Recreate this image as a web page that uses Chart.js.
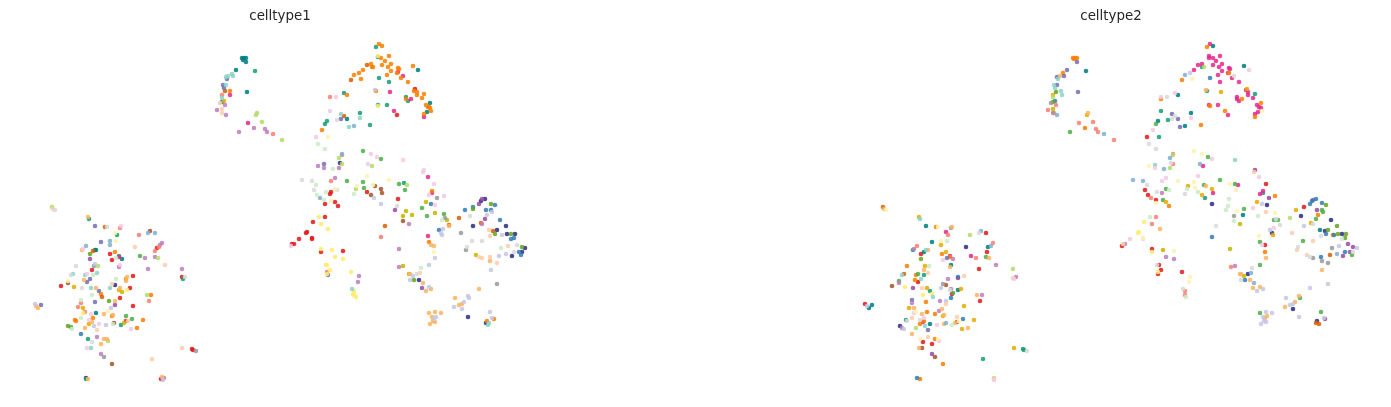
<!DOCTYPE html>
<html>
<head>
<meta charset="utf-8">
<title>celltype umap</title>
<script src="https://cdn.jsdelivr.net/npm/chart.js@4"></script>
<style>
  html, body { margin: 0; padding: 0; background: #fff; }
  canvas { position: absolute; top: 0; }
  #panel1 { left: 11px; }
  #panel2 { left: 842px; }
</style>
</head>
<body>
<canvas id="panel1" width="538" height="407"></canvas>
<canvas id="panel2" width="538" height="407"></canvas>
<script>
// cluster codes and the colour used for each
const cellTypes = ['LY','LG','PG','LK','PE','LI','MI','LB','LO','YE','LM','SA','LP','GY','AM','MU','IN','OL','GN','BL','BR','DO','OR','PK','PU','TG','DT','NV','RD'];
const typeColors = ['#fff2ae','#d9d9d9','#ccebc5','#f4cae4','#fdcdac','#c5c6e4','#8dd3c7','#80b1d3','#fdb462','#ffed6f','#b3de69','#fb8072','#bc80bd','#999999','#e6ab02','#c4b800','#7570b3','#66a61e','#4daf4a','#377eb8','#a65628','#d95f02','#ff7f00','#e7298a','#984ea3','#1b9e77','#007f80','#2d2d85','#e41a1c'];

// each cell is [umap x, umap y, cluster]
const ct1Lower = [
  [52,207,'LM'],[53,209,'PE'],[55,210,'LG'],[88,217,'LO'],[89,219,'TG'],[95,226,'IN'],[105,227,'DO'],[107,227,'LG'],[121,226,'LK'],[120,228,'SA'],
  [115,233,'LY'],[117,235,'TG'],[139,235,'SA'],[148,233,'LB'],[150,231,'BR'],[155,233,'LB'],[101,242,'IN'],[110,241,'LB'],[116,241,'LY'],[110,245,'LB'],
  [86,246,'LB'],[83,249,'LK'],[82,250,'LO'],[162,243,'LP'],[160,245,'LP'],[157,248,'RD'],[159,247,'SA'],[155,251,'SA'],[135,247,'PE'],[95,250,'DT'],
  [96,250,'DT'],[93,251,'DO'],[90,254,'OL'],[115,252,'OR'],[110,254,'RD'],[119,256,'TG'],[116,258,'PG'],[119,257,'PK'],[112,260,'RD'],[122,259,'DT'],
  [90,259,'PU'],[140,256,'GN'],[145,258,'LP'],[155,257,'LP'],[158,258,'LM'],[76,266,'LG'],[95,264,'LI'],[94,266,'GY'],[98,266,'LM'],[92,270,'RD'],
  [120,265,'LK'],[119,267,'LP'],[165,265,'PE'],[148,269,'LP'],[182,269,'LP'],[73,274,'MI'],[71,275,'LG'],[85,275,'MI'],[87,274,'LK'],[93,275,'PG'],
  [97,273,'MI'],[133,276,'RD'],[127,277,'LO'],[126,279,'OR'],[126,281,'LO'],[116,279,'PG'],[182,277,'RD'],[185,277,'LG'],[183,279,'TG'],[84,280,'LO'],
  [90,279,'IN'],[87,282,'IN'],[68,281,'LY'],[68,283,'BR'],[61,286,'RD'],[74,287,'AM'],[82,288,'LG'],[91,288,'MI'],[96,288,'LO'],[99,291,'IN'],
  [112,284,'PE'],[115,285,'NV'],[110,288,'MI'],[120,288,'LO'],[119,290,'AM'],[122,292,'MU'],[127,290,'YE'],[130,288,'RD'],[101,294,'OR'],[102,297,'DO'],
  [92,295,'PG'],[120,298,'RD'],[147,295,'LM'],[151,295,'OR'],[149,301,'SA'],[109,301,'OL'],[115,301,'LO'],[95,302,'IN'],[115,305,'PU'],[81,300,'PG'],
  [81,303,'SA'],[133,306,'RD'],[35,304,'LI'],[36,306,'LO'],[38,308,'LO'],[41,305,'IN'],[78,307,'SA'],[83,308,'AM'],[85,312,'SA'],[83,313,'YE'],
  [111,308,'LI'],[108,311,'LY'],[96,313,'DT'],[91,314,'LK'],[104,314,'LO'],[113,315,'LO'],[112,316,'OR'],[81,318,'PG'],[93,318,'OR'],[75,320,'OR'],
  [76,321,'OR'],[89,320,'LK'],[92,322,'LO'],[89,324,'AM'],[94,326,'LI'],[99,324,'LK'],[106,325,'LI'],[126,316,'GN'],[132,319,'GN'],[143,320,'OR'],
  [137,328,'OR'],[131,329,'LK'],[128,321,'PE'],[126,321,'RD'],[124,323,'MU'],[113,324,'PG'],[114,323,'BR'],[121,325,'TG'],[68,326,'OL'],[71,327,'GN'],
  [72,329,'PG'],[85,328,'LO'],[97,330,'PE'],[81,334,'BL'],[97,337,'LP'],[88,339,'TG'],[92,342,'LG'],[104,339,'LO'],[107,339,'LO'],[108,341,'LM'],
  [101,344,'LO'],[87,348,'LK'],[91,348,'MI'],[182,348,'PE'],[192,349,'RD'],[193,350,'RD'],[196,351,'GY'],[152,359,'PE'],[101,354,'LP'],[104,357,'GY'],
  [112,364,'BR'],[88,379,'LO'],[86,379,'TG'],[86,378,'NV'],[162,377,'LO'],[161,379,'RD'],[164,378,'LP'],[163,380,'LI']
];
const ct1UpperRight = [
  [379,44,'OR'],[382,46,'OR'],[376,47,'TG'],[378,56,'YE'],[378,57,'TG'],[381,58,'OR'],[389,56,'OR'],[385,61,'OR'],[367,65,'DO'],[371,64,'OR'],
  [372,67,'OR'],[373,67,'OR'],[382,65,'OR'],[391,64,'OR'],[388,67,'OR'],[391,71,'OR'],[387,75,'OR'],[363,70,'OR'],[359,73,'OR'],[354,75,'OR'],
  [361,79,'OR'],[351,80,'DO'],[398,68,'OR'],[399,69,'OR'],[397,73,'OR'],[398,72,'PK'],[403,76,'PK'],[401,78,'OR'],[413,66,'OR'],[418,70,'DT'],
  [408,82,'OR'],[379,78,'TG'],[389,82,'TG'],[376,91,'OR'],[375,90,'LI'],[390,92,'PK'],[414,91,'OR'],[415,89,'RD'],[417,92,'OR'],[417,95,'OR'],
  [424,94,'OR'],[422,98,'OR'],[406,97,'TG'],[406,99,'OR'],[408,101,'TG'],[411,99,'PK'],[430,103,'DT'],[426,105,'OR'],[428,107,'OR'],[430,108,'OR'],
  [431,111,'OR'],[429,107,'OR'],[427,112,'DT'],[424,114,'OR'],[424,117,'PK'],[378,106,'YE'],[378,105,'TG'],[387,105,'TG'],[394,111,'PK'],[397,115,'RD']
];
const ct1UpperLeft = [
  [242,58,'DT'],[244,58,'DT'],[246,58,'DT'],[243,60,'DT'],[246,62,'DT'],[236,70,'DT'],[255,71,'TG'],[232,74,'MI'],[233,76,'MI'],[228,76,'MI'],
  [226,77,'MI'],[227,79,'IN'],[226,85,'MI'],[223,85,'IN'],[224,88,'IN'],[225,91,'DO'],[230,91,'OR'],[230,95,'PK'],[247,92,'DT'],[222,95,'SA'],
  [222,98,'MI'],[224,101,'AM'],[220,103,'PE'],[222,102,'DT'],[225,105,'LP'],[222,109,'PE'],[217,110,'LP'],[222,113,'PE'],[226,115,'LP'],[257,113,'LM'],
  [256,115,'LM'],[262,122,'LM'],[248,123,'PK'],[254,128,'LP'],[239,132,'LP'],[265,129,'LP'],[267,132,'LP'],[273,134,'SA'],[282,140,'LM']
];
const ct1Middle = [
  [330,97,'SA'],[336,97,'LK'],[344,93,'TG'],[347,95,'OR'],[330,111,'LK'],[341,114,'MI'],[344,116,'DO'],[341,119,'IN'],[337,120,'LG'],[347,119,'DT'],
  [360,113,'TG'],[360,118,'MI'],[327,121,'TG'],[325,124,'TG'],[349,127,'MI'],[354,126,'LB'],[370,125,'TG'],[322,130,'OR'],[316,137,'LK'],[328,137,'LY'],
  [318,144,'PG'],[325,149,'PG'],[363,151,'GN'],[342,155,'SA'],[342,154,'LB'],[371,154,'LK'],[377,157,'LK'],[381,159,'GN'],[339,158,'LM'],[403,160,'LK'],
  [324,164,'IN'],[318,166,'LP'],[324,168,'LP'],[340,163,'NV'],[342,164,'LM'],[339,168,'LP'],[333,169,'PG'],[368,164,'LK'],[372,166,'LM'],[423,172,'LK'],
  [424,170,'LK'],[428,177,'PK'],[434,184,'LK'],[367,176,'LY'],[389,180,'LY'],[302,180,'LG'],[312,181,'LG'],[331,181,'SA'],[335,178,'LP'],[347,181,'GN'],
  [363,182,'GN'],[357,186,'LY'],[373,185,'LY'],[375,186,'BR'],[399,184,'GN'],[404,183,'TG'],[407,185,'LM'],[405,190,'GN'],[316,185,'PG'],[314,190,'LG'],
  [335,189,'LY'],[337,190,'LG'],[326,192,'PG'],[317,195,'PG'],[331,192,'RD'],[330,194,'RD'],[364,188,'GN'],[356,189,'LM'],[354,194,'PG'],[367,192,'RD'],
  [381,189,'BR'],[382,193,'BR'],[371,195,'BR'],[374,198,'LI'],[432,191,'OR'],[429,195,'LK'],[432,193,'PK'],[444,196,'LK'],[437,198,'GY'],[320,198,'LB'],
  [324,200,'PG'],[331,201,'LY'],[335,202,'RD'],[325,204,'RD'],[338,206,'RD'],[398,199,'RD'],[381,204,'LI'],[397,206,'LG'],[426,202,'MU'],[431,204,'BL'],
  [435,205,'LK'],[422,208,'GN'],[395,210,'PU'],[406,211,'MU'],[403,216,'MU'],[412,215,'MU'],[403,221,'BR'],[409,224,'LP'],[427,216,'GN'],[435,213,'MU'],
  [444,214,'GN'],[442,220,'PG'],[445,218,'GY'],[447,220,'MU'],[449,226,'LO'],[449,225,'DO'],[319,217,'YE'],[325,217,'RD'],[313,222,'RD'],[321,224,'YE'],
  [328,229,'YE'],[385,226,'DO'],[381,237,'SA'],[307,232,'RD'],[306,233,'RD'],[299,239,'RD'],[312,238,'RD'],[312,239,'RD'],[291,246,'LK'],[292,244,'RD'],
  [294,244,'RD'],[443,229,'LI'],[439,230,'BL'],[441,233,'LI'],[442,235,'LI'],[428,236,'PK'],[429,242,'OR'],[431,245,'LO'],[434,246,'LO'],[399,249,'LP'],
  [434,252,'LY'],[435,258,'LI'],[321,249,'YE'],[321,252,'RD'],[332,250,'YE'],[343,251,'RD'],[335,257,'YE'],[343,259,'YE'],[326,265,'YE'],[327,265,'YE'],
  [330,270,'YE'],[327,272,'SA'],[328,275,'IN'],[327,274,'YE'],[351,272,'YE'],[359,276,'LP'],[358,282,'LP'],[352,289,'MI'],[354,291,'YE'],[353,294,'YE'],
  [354,295,'YE'],[356,297,'YE'],[399,267,'LP'],[403,266,'MU'],[421,268,'PG'],[429,265,'LI'],[409,274,'MU'],[410,274,'LO'],[420,273,'PE'],[417,274,'LG'],
  [413,276,'LI'],[410,280,'LI'],[414,280,'OL'],[419,280,'NV'],[423,283,'LO'],[429,287,'LI'],[422,288,'PU'],[431,289,'LO'],[426,291,'LO']
];
const ct1Right = [
  [485,199,'NV'],[482,199,'PU'],[481,201,'NV'],[479,204,'PU'],[491,204,'OL'],[495,205,'BL'],[473,207,'BL'],[473,209,'OL'],[465,210,'BL'],[486,210,'BL'],
  [491,210,'BL'],[492,212,'LI'],[487,215,'LI'],[470,216,'LG'],[485,219,'PU'],[459,218,'DO'],[500,220,'BL'],[482,224,'LP'],[481,223,'DO'],[473,226,'NV'],
  [506,226,'NV'],[497,230,'NV'],[493,231,'DO'],[489,230,'PE'],[461,233,'GY'],[490,236,'PE'],[495,234,'OL'],[502,235,'LI'],[507,234,'NV'],[511,234,'OL'],
  [515,234,'NV'],[514,238,'BL'],[511,239,'BL'],[472,241,'LG'],[482,241,'LG'],[508,246,'PE'],[517,245,'LG'],[501,248,'PG'],[522,247,'OL'],[525,248,'NV'],
  [514,252,'LG'],[519,252,'BL'],[522,252,'NV'],[521,255,'BL'],[506,254,'LI'],[499,256,'LI'],[512,256,'NV'],[467,247,'LG'],[466,250,'GY'],[476,255,'MU'],
  [479,257,'PE'],[482,258,'PE'],[490,257,'PE'],[490,261,'LO'],[497,263,'PE'],[491,270,'LI'],[497,284,'GY'],[479,289,'LO']
];
const ct1Bottom = [
  [455,298,'LO'],[468,296,'LI'],[469,298,'LI'],[464,302,'LI'],[459,305,'LO'],[462,304,'LO'],[454,307,'LI'],[462,309,'LI'],[429,313,'LO'],[435,312,'LO'],
  [441,313,'LO'],[432,317,'LO'],[436,317,'LI'],[434,319,'LI'],[433,321,'LO'],[435,322,'LO'],[430,324,'LO'],[468,317,'NV'],[490,312,'LI'],[492,318,'LI'],
  [494,319,'OR'],[487,321,'OR'],[489,323,'MI'],[488,325,'MI'],[486,323,'NV']
];

const ct2Lower = [
  [52,207,'DO'],[53,209,'LO'],[55,210,'LY'],[88,217,'AM'],[89,219,'MI'],[95,226,'DT'],[105,227,'OR'],[107,227,'LY'],[121,227,'LO'],[120,228,'GY'],
  [115,232,'PK'],[117,235,'SA'],[155,233,'RD'],[150,231,'LB'],[148,233,'LG'],[139,235,'LM'],[101,242,'DT'],[110,241,'LY'],[116,241,'PG'],[110,245,'AM'],
  [86,246,'SA'],[135,247,'NV'],[162,243,'SA'],[160,246,'LB'],[157,247,'DT'],[156,252,'RD'],[155,257,'GN'],[158,258,'LO'],[83,249,'LP'],[82,250,'TG'],
  [95,250,'MI'],[97,250,'LO'],[93,252,'DT'],[90,254,'RD'],[90,259,'OL'],[115,252,'AM'],[111,254,'OR'],[119,256,'PK'],[119,257,'OR'],[116,258,'IN'],
  [122,259,'LP'],[112,260,'LK'],[120,265,'DT'],[119,267,'LO'],[140,256,'PK'],[145,258,'SA'],[165,265,'LP'],[148,269,'RD'],[76,266,'OR'],[94,266,'AM'],
  [98,266,'PG'],[93,270,'LO'],[71,275,'MI'],[73,274,'DO'],[87,274,'GN'],[85,275,'OR'],[93,275,'TG'],[97,273,'PE'],[133,276,'PE'],[68,281,'GN'],
  [68,283,'LP'],[84,280,'OR'],[87,282,'RD'],[90,279,'MI'],[117,279,'LP'],[127,277,'BL'],[127,278,'PK'],[182,269,'LM'],[185,277,'LP'],[182,278,'PE'],
  [183,279,'LK'],[61,286,'BR'],[74,287,'YE'],[82,288,'PU'],[91,288,'PE'],[96,288,'AM'],[99,291,'TG'],[112,284,'GY'],[115,285,'BR'],[110,288,'LI'],
  [120,289,'LP'],[119,290,'LG'],[130,289,'AM'],[127,290,'DT'],[121,294,'RD'],[122,293,'GN'],[120,298,'BL'],[92,295,'YE'],[101,294,'YE'],[102,297,'MI'],
  [95,302,'OR'],[146,295,'LO'],[151,295,'LP'],[149,301,'RD'],[81,303,'LP'],[81,300,'IN'],[109,301,'LP'],[115,301,'LI'],[115,304,'PE'],[133,306,'AM'],
  [34,304,'RD'],[36,306,'LI'],[41,305,'DT'],[38,308,'DT'],[78,308,'AM'],[83,308,'LO'],[85,312,'LY'],[83,313,'LK'],[111,309,'LO'],[108,311,'LP'],
  [91,314,'LO'],[96,312,'OR'],[104,314,'OR'],[113,315,'LO'],[112,316,'AM'],[81,318,'PE'],[76,321,'LG'],[75,320,'TG'],[89,320,'LG'],[93,318,'LK'],
  [93,321,'OR'],[92,322,'PK'],[89,324,'OR'],[99,324,'DT'],[94,326,'MI'],[106,325,'LK'],[115,323,'LB'],[113,324,'LO'],[126,317,'PE'],[132,319,'BL'],
  [128,321,'LY'],[124,323,'LO'],[126,322,'BR'],[121,325,'PG'],[143,320,'AM'],[137,328,'LO'],[131,329,'AM'],[69,326,'NV'],[71,328,'LP'],[73,329,'LI'],
  [85,328,'LM'],[97,330,'IN'],[81,334,'LO'],[97,337,'PE'],[89,339,'LY'],[92,342,'RD'],[104,339,'OR'],[107,339,'LY'],[108,341,'LK'],[101,344,'RD'],
  [88,348,'LO'],[91,348,'BR'],[183,348,'AM'],[192,349,'TG'],[193,350,'TG'],[196,351,'LG'],[152,359,'TG'],[101,354,'PU'],[104,357,'BR'],[112,364,'OR'],
  [89,379,'OR'],[86,378,'BL'],[163,378,'LM'],[163,379,'PE'],[163,380,'LK']
];
const ct2UpperRight = [
  [379,44,'PK'],[382,46,'DT'],[376,47,'OR'],[378,56,'PK'],[378,58,'PK'],[382,58,'PK'],[389,56,'PK'],[385,61,'PK'],[367,65,'PK'],[371,64,'PK'],
  [371,67,'TG'],[373,67,'LM'],[382,65,'PK'],[391,64,'PK'],[388,67,'PK'],[391,71,'PK'],[387,75,'PK'],[363,70,'PK'],[359,73,'LI'],[354,75,'LB'],
  [361,79,'LY'],[351,80,'OR'],[398,68,'PK'],[399,69,'PK'],[398,73,'OR'],[397,73,'PK'],[403,76,'LG'],[401,78,'PK'],[413,66,'DT'],[418,70,'LK'],
  [408,82,'PK'],[379,78,'BL'],[389,82,'PK'],[376,91,'TG'],[375,90,'LO'],[390,92,'AM'],[416,89,'AM'],[415,90,'PK'],[417,92,'PK'],[417,95,'PK'],
  [424,94,'TG'],[422,98,'PK'],[406,97,'PK'],[406,99,'PK'],[408,101,'PK'],[411,99,'OR'],[430,103,'OR'],[426,105,'PK'],[428,107,'PK'],[430,108,'PK'],
  [431,111,'LY'],[427,112,'PK'],[424,114,'PK'],[424,117,'OR'],[379,106,'OR'],[378,105,'PK'],[387,105,'PK'],[394,111,'OR'],[397,115,'PK']
];
const ct2UpperLeft = [
  [242,58,'OR'],[244,58,'OR'],[246,58,'OR'],[243,59,'OR'],[246,62,'IN'],[236,70,'IN'],[255,71,'DT'],[232,73,'OR'],[233,76,'IN'],[229,76,'LO'],
  [226,77,'IN'],[227,79,'MI'],[223,85,'MI'],[226,85,'IN'],[224,88,'MI'],[225,92,'OL'],[230,91,'MI'],[231,95,'MI'],[247,92,'IN'],[222,95,'AM'],
  [222,97,'LM'],[224,101,'BL'],[220,103,'GY'],[222,102,'OL'],[225,105,'SA'],[222,109,'MU'],[217,110,'SA'],[222,113,'LP'],[223,113,'MU'],[226,115,'LB'],
  [257,113,'LO'],[256,115,'AM'],[262,122,'SA'],[248,123,'SA'],[254,128,'OR'],[239,132,'GN'],[265,129,'SA'],[267,132,'SA'],[273,134,'LB'],[283,140,'SA']
];
const ct2Middle = [
  [330,97,'LK'],[330,99,'OR'],[336,97,'LG'],[344,93,'LK'],[347,95,'DT'],[330,111,'TG'],[341,114,'IN'],[344,116,'LG'],[341,119,'LG'],[347,119,'IN'],
  [337,120,'TG'],[360,113,'DT'],[360,118,'LK'],[327,121,'DT'],[325,124,'GN'],[349,127,'IN'],[354,126,'DT'],[370,125,'OR'],[322,130,'LK'],[316,137,'RD'],
  [328,137,'TG'],[318,144,'LG'],[325,149,'LG'],[363,151,'LY'],[342,155,'LM'],[342,154,'SA'],[371,154,'LY'],[377,157,'GN'],[381,159,'LK'],[339,158,'LB'],
  [404,160,'MI'],[318,166,'LY'],[324,165,'MI'],[324,168,'LK'],[333,169,'LB'],[340,163,'LG'],[342,164,'SA'],[339,168,'LM'],[369,164,'LB'],[372,166,'PK'],
  [424,170,'PU'],[423,172,'PE'],[428,177,'LK'],[435,184,'RD'],[367,176,'LK'],[363,182,'LY'],[389,180,'GN'],[373,185,'GN'],[375,186,'LO'],[399,184,'LY'],
  [404,184,'GN'],[407,185,'PK'],[405,190,'LY'],[302,180,'LB'],[312,181,'LB'],[316,185,'LG'],[331,181,'LK'],[335,178,'LK'],[347,181,'LY'],[357,186,'AM'],
  [364,188,'LY'],[314,190,'RD'],[317,195,'RD'],[320,198,'SA'],[325,200,'RD'],[326,192,'LG'],[331,193,'LP'],[335,189,'GN'],[338,190,'PG'],[325,203,'LY'],
  [332,200,'GN'],[335,202,'AM'],[338,206,'OR'],[356,189,'PG'],[354,194,'LG'],[367,192,'PG'],[371,195,'AM'],[374,198,'TG'],[381,189,'AM'],[382,193,'PK'],
  [381,204,'NV'],[432,191,'PK'],[432,193,'TG'],[429,194,'PK'],[438,198,'PU'],[444,196,'OR'],[426,202,'AM'],[431,204,'LI'],[436,205,'NV'],[398,199,'PG'],
  [397,206,'PG'],[395,210,'PG'],[406,211,'LY'],[413,209,'GN'],[403,216,'GY'],[412,215,'DT'],[403,221,'PG'],[409,224,'MU'],[422,208,'LK'],[435,212,'PE'],
  [427,216,'PG'],[444,213,'LY'],[443,220,'GN'],[445,219,'LG'],[447,220,'GN'],[449,225,'LG'],[443,228,'LK'],[439,230,'LI'],[442,235,'AM'],[441,233,'NV'],
  [319,217,'PG'],[325,217,'SA'],[313,222,'YE'],[321,224,'SA'],[329,229,'LO'],[385,226,'LG'],[381,237,'BL'],[308,232,'YE'],[307,233,'YE'],[312,238,'LY'],
  [312,239,'LG'],[299,239,'LK'],[294,244,'LP'],[292,244,'PE'],[291,246,'RD'],[428,236,'LY'],[429,242,'GN'],[431,245,'LK'],[434,245,'RD'],[434,252,'OR'],
  [435,258,'LO'],[429,265,'GN'],[399,249,'MU'],[321,252,'YE'],[321,249,'RD'],[332,250,'MU'],[343,251,'LY'],[335,257,'LP'],[343,259,'LP'],[326,265,'LG'],
  [328,265,'RD'],[330,270,'RD'],[327,272,'YE'],[327,274,'RD'],[351,272,'RD'],[359,277,'LY'],[358,282,'LY'],[352,289,'LG'],[355,297,'PG'],[354,291,'SA'],
  [354,295,'SA'],[400,267,'SA'],[404,266,'LP'],[421,268,'LG'],[409,274,'LO'],[410,274,'LO'],[420,273,'LB'],[417,274,'NV'],[413,276,'MU'],[410,280,'LG'],
  [414,280,'BL'],[419,280,'LO'],[423,283,'LB'],[429,287,'LO'],[422,288,'LO'],[432,289,'LI'],[426,291,'LI']
];
const ct2Right = [
  [485,199,'BL'],[482,200,'PU'],[481,201,'BL'],[479,204,'BL'],[491,203,'BL'],[495,205,'OL'],[473,207,'RD'],[465,210,'AM'],[486,210,'PU'],[491,210,'GN'],
  [492,212,'GN'],[487,215,'OR'],[485,219,'GN'],[470,216,'NV'],[459,218,'LM'],[500,220,'NV'],[480,223,'AM'],[482,224,'LG'],[473,226,'LI'],[506,226,'OL'],
  [497,230,'OL'],[494,231,'NV'],[489,230,'DT'],[461,233,'PE'],[495,234,'BL'],[490,236,'LG'],[502,235,'OR'],[503,235,'BL'],[507,234,'OL'],[511,234,'NV'],
  [515,234,'OL'],[514,238,'OL'],[511,239,'PG'],[472,241,'GN'],[482,241,'PE'],[508,246,'LI'],[517,244,'PU'],[501,248,'GY'],[522,247,'PU'],[526,248,'LI'],
  [522,252,'LG'],[519,252,'PU'],[521,255,'GN'],[514,252,'BL'],[506,254,'LB'],[499,255,'DO'],[512,256,'PU'],[467,247,'LG'],[466,250,'PE'],[476,255,'PE'],
  [479,257,'LG'],[482,258,'GY'],[490,257,'BL'],[491,261,'GY'],[497,263,'GY'],[491,270,'LO'],[497,284,'LI'],[479,288,'LI']
];
const ct2Bottom = [
  [455,298,'LI'],[468,296,'LO'],[469,298,'GN'],[464,302,'LO'],[459,305,'LI'],[462,304,'LI'],[454,307,'LO'],[462,309,'NV'],[468,317,'LI'],[429,313,'GN'],
  [435,312,'LI'],[441,313,'LI'],[432,317,'LI'],[436,316,'LO'],[434,318,'LO'],[433,321,'LI'],[435,322,'LI'],[430,324,'LI'],[490,312,'GN'],[493,318,'LI'],
  [494,319,'PU'],[486,321,'NV'],[485,323,'DO'],[488,324,'DO']
];

const celltype1Cells = [...ct1Lower, ...ct1UpperRight, ...ct1UpperLeft, ...ct1Middle, ...ct1Right, ...ct1Bottom];
const celltype2Cells = [...ct2Lower, ...ct2UpperRight, ...ct2UpperLeft, ...ct2Middle, ...ct2Right, ...ct2Bottom];

function buildDatasets(cells) {
  return cellTypes.map((type, i) => ({
    label: type,
    data: cells.filter(c => c[2] === type).map(c => ({ x: c[0], y: c[1] })),
    backgroundColor: typeColors[i] + 'dd',
    borderWidth: 0,
    pointRadius: 2.3,
    clip: false
  }));
}

function drawPanel(id, title, cells) {
  new Chart(document.getElementById(id), {
    type: 'scatter',
    data: { datasets: buildDatasets(cells) },
    options: {
      responsive: false,
      animation: false,
      layout: { padding: { bottom: 12 }, autoPadding: false },
      plugins: {
        legend: { display: false },
        tooltip: { enabled: false },
        title: {
          display: true,
          text: title,
          color: '#262626',
          font: { family: '"DejaVu Sans"', size: 13.4, weight: 'normal' },
          padding: { top: 8, bottom: 3.9 }
        }
      },
      scales: {
        x: { display: false, min: 11, max: 549 },
        y: { display: false, min: 28, max: 395, reverse: true }
      }
    }
  });
}

drawPanel('panel1', 'celltype1', celltype1Cells);
drawPanel('panel2', 'celltype2', celltype2Cells);
</script>
</body>
</html>
